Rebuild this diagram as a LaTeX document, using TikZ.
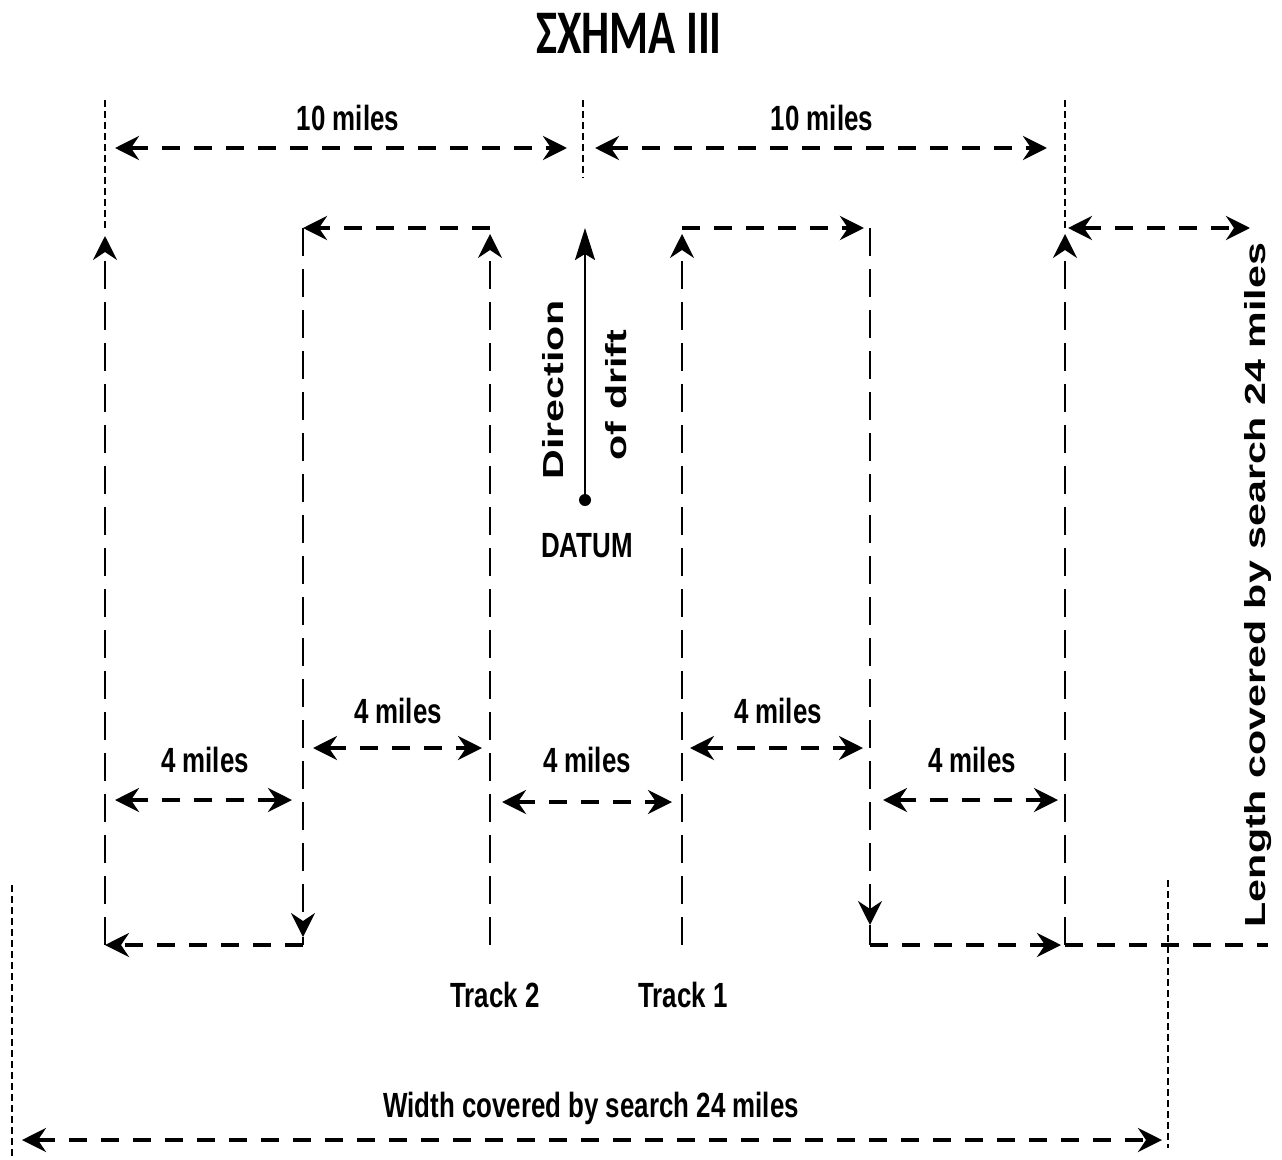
\documentclass[tikz,border=0pt]{standalone}
\usepackage{fontspec}
\setmainfont{Liberation Sans}
\newfontfamily\hfont[FakeStretch=0.74,FakeBold=0]{Liberation Sans Bold}
\newfontfamily\vfont[FakeStretch=1.42]{Liberation Sans Bold}
\newfontfamily\tfont[FakeStretch=0.72]{Carlito Bold}
\usetikzlibrary{arrows.meta}
\begin{document}
\begin{tikzpicture}[x=1pt,y=-1pt,
  >={Stealth[length=24pt,width=24pt,inset=8pt]},
  hd/.style={line width=3.8pt,dash pattern=on 18pt off 14pt},
  vd/.style={line width=2.5pt,dash pattern=on 28pt off 13pt},
  ext/.style={line width=1.5pt,dash pattern=on 7pt off 4pt},
  lbl/.style={font=\hfont\fontsize{35}{40}\selectfont,inner sep=0pt,anchor=base},
  rlbl/.style={font=\vfont\fontsize{29}{33}\selectfont,inner sep=0pt,anchor=base,rotate=90}]
\useasboundingbox (0,0) rectangle (1282,1159);

% title
\node[inner sep=0pt,anchor=base,font=\tfont\fontsize{62}{70}\selectfont] (title) at (629,53) {ΣΧΗΜΑ III};

% ---- coordinates of the search pattern ----
\coordinate (t2b) at (490,945);
\coordinate (t2t) at (490,228);
\coordinate (a2t) at (303,228);
\coordinate (a2m) at (303,937);
\coordinate (a2b) at (303,945);
\coordinate (l1b) at (105,945);
\coordinate (l1t) at (105,228);
\coordinate (l1e) at (105,100);
\coordinate (t1b) at (682,945);
\coordinate (t1t) at (682,228);
\coordinate (b1t) at (870,228);
\coordinate (b1m) at (870,925);
\coordinate (b1b) at (870,945);
\coordinate (r1b) at (1065,945);
\coordinate (r1t) at (1065,228);
\coordinate (r1e) at (1065,100);
\coordinate (lenT) at (1250,228);
\coordinate (lenB) at (1268,945);
\coordinate (c1) at (583,100);
\coordinate (c2) at (583,178);

% Track 2
\draw[vd,->,shorten >=6pt] (t2b) -- (t2t);
\draw[hd,->] (t2t) -- (a2t);
\draw[vd,->] (a2t) -- (a2m);
\draw[line width=2.5pt] (a2m) -- (a2b);
\draw[hd,->] (a2b) -- (l1b);
\draw[vd,->,shorten >=8pt] (l1b) -- (l1t);
\draw[ext] (l1t) -- (l1e);

% Track 1
\draw[vd,->,shorten >=6pt] (t1b) -- (t1t);
\draw[hd,->,shorten >=6pt] (t1t) -- (b1t);
\draw[vd,->] (b1t) -- (b1m);
\draw[line width=2.5pt] (b1m) -- (b1b);
\draw[hd,->,shorten >=4pt] (b1b) -- (r1b);
\draw[vd,->,shorten >=6pt] (r1b) -- (r1t);
\draw[ext] (r1t) -- (r1e);
\draw[hd,<->,shorten <=3pt] (r1t) -- (lenT);
\draw[hd] (r1b) -- (lenB);

% centre extension
\draw[ext] (c1) -- (c2);

% 10 miles dimensions
\coordinate (d1a) at (115,148);
\coordinate (d1b) at (567,148);
\coordinate (d2a) at (595,148);
\coordinate (d2b) at (1047,148);
\draw[hd,<->] (d1a) -- (d1b);
\draw[hd,<->] (d2a) -- (d2b);
\node[lbl] (m10a) at (348,130) {10 miles};
\node[lbl] (m10b) at (822,130) {10 miles};

% 4 miles dimensions
\coordinate (fa1) at (115,800);  \coordinate (fa2) at (292,800);
\coordinate (fb1) at (313,748);  \coordinate (fb2) at (482,748);
\coordinate (fc1) at (502,802);  \coordinate (fc2) at (672,802);
\coordinate (fd1) at (690,748);  \coordinate (fd2) at (863,748);
\coordinate (fe1) at (883,800);  \coordinate (fe2) at (1058,800);
\draw[hd,<->] (fa1) -- (fa2);
\draw[hd,<->] (fb1) -- (fb2);
\draw[hd,<->] (fc1) -- (fc2);
\draw[hd,<->] (fd1) -- (fd2);
\draw[hd,<->] (fe1) -- (fe2);
\node[lbl] (m4a) at (205,772) {4 miles};
\node[lbl] (m4b) at (398,723) {4 miles};
\node[lbl] (m4c) at (587,772) {4 miles};
\node[lbl] (m4d) at (778,723) {4 miles};
\node[lbl] (m4e) at (972,772) {4 miles};

% drift arrow and datum
\node[circle,fill,inner sep=0pt,minimum size=12pt] (dot) at (585,500) {};
\coordinate (drift) at (585,228);
\draw[line width=2.2pt,{Stealth[length=32pt,width=20pt,inset=6pt]}-] (drift) -- (dot.center);
\node[lbl] (datum) at (587,557) {DATUM};
\node[rlbl] (dir) at (563,390) {Direction};
\node[rlbl] (ofd) at (626,395) {of drift};

% track labels
\node[lbl] (tr2) at (495,1007) {Track 2};
\node[lbl] (tr1) at (683,1007) {Track 1};

% length label
\node[rlbl] (len) at (1265,585) {Length covered by search 24 miles};

% width dimension
\coordinate (wx1) at (12,885);  \coordinate (wx2) at (12,1159);
\coordinate (wy1) at (1168,880); \coordinate (wy2) at (1168,1148);
\draw[ext] (wx1) -- (wx2);
\draw[ext] (wy1) -- (wy2);
\coordinate (wl) at (22,1140);
\coordinate (wr) at (1162,1140);
\draw[hd,<->] (wl) -- (wr);
\node[lbl] (wlab) at (591,1117) {Width covered by search 24 miles};
\end{tikzpicture}
\end{document}
